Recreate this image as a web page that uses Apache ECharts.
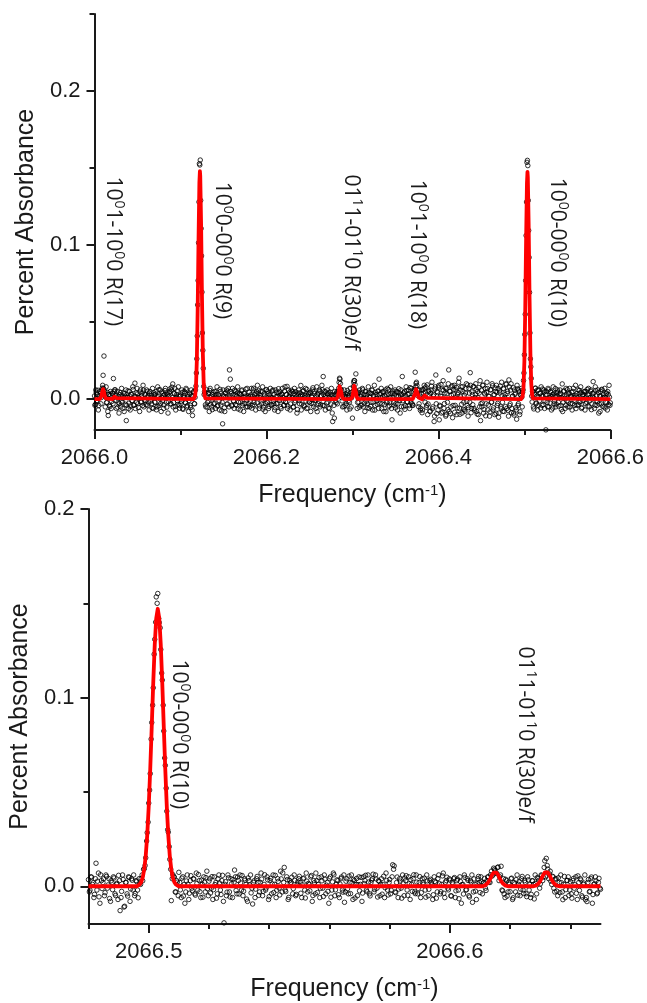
<!DOCTYPE html>
<html>
<head>
<meta charset="utf-8">
<script src="https://cdn.jsdelivr.net/npm/echarts@6/dist/echarts.min.js"></script>
<style>
  html, body { margin: 0; padding: 0; background: #ffffff; }
  #chart { width: 647px; height: 1003px; }
</style>
</head>
<body>
<div id="chart"></div>
<script>
// ---------- Upper scan: 2066.0 - 2066.6 cm-1 ----------
// measured points: the 1 mcm-1 grid first, then the half-step samples
const topFreq = [
2066.000,2066.001,2066.002,2066.003,2066.004,2066.005,2066.006,2066.007,2066.008,2066.009,
2066.010,2066.011,2066.012,2066.013,2066.014,2066.015,2066.016,2066.017,2066.018,2066.019,
2066.020,2066.021,2066.022,2066.023,2066.024,2066.025,2066.026,2066.027,2066.028,2066.029,
2066.030,2066.031,2066.032,2066.033,2066.034,2066.035,2066.036,2066.037,2066.038,2066.039,
2066.040,2066.041,2066.042,2066.043,2066.044,2066.045,2066.046,2066.047,2066.048,2066.049,
2066.050,2066.051,2066.052,2066.053,2066.054,2066.055,2066.056,2066.057,2066.058,2066.059,
2066.060,2066.061,2066.062,2066.063,2066.064,2066.065,2066.066,2066.067,2066.068,2066.069,
2066.070,2066.071,2066.072,2066.073,2066.074,2066.075,2066.076,2066.077,2066.078,2066.079,
2066.080,2066.081,2066.082,2066.083,2066.084,2066.085,2066.086,2066.087,2066.088,2066.089,
2066.090,2066.091,2066.092,2066.093,2066.094,2066.095,2066.096,2066.097,2066.098,2066.099,
2066.100,2066.101,2066.102,2066.103,2066.104,2066.105,2066.106,2066.107,2066.108,2066.109,
2066.110,2066.111,2066.112,2066.113,2066.114,2066.115,2066.116,2066.117,2066.118,2066.119,
2066.120,2066.121,2066.122,2066.123,2066.124,2066.125,2066.126,2066.127,2066.128,2066.129,
2066.130,2066.131,2066.132,2066.133,2066.134,2066.135,2066.136,2066.137,2066.138,2066.139,
2066.140,2066.141,2066.142,2066.143,2066.144,2066.145,2066.146,2066.147,2066.148,2066.149,
2066.150,2066.151,2066.152,2066.153,2066.154,2066.155,2066.156,2066.157,2066.158,2066.159,
2066.160,2066.161,2066.162,2066.163,2066.164,2066.165,2066.166,2066.167,2066.168,2066.169,
2066.170,2066.171,2066.172,2066.173,2066.174,2066.175,2066.176,2066.177,2066.178,2066.179,
2066.180,2066.181,2066.182,2066.183,2066.184,2066.185,2066.186,2066.187,2066.188,2066.189,
2066.190,2066.191,2066.192,2066.193,2066.194,2066.195,2066.196,2066.197,2066.198,2066.199,
2066.200,2066.201,2066.202,2066.203,2066.204,2066.205,2066.206,2066.207,2066.208,2066.209,
2066.210,2066.211,2066.212,2066.213,2066.214,2066.215,2066.216,2066.217,2066.218,2066.219,
2066.220,2066.221,2066.222,2066.223,2066.224,2066.225,2066.226,2066.227,2066.228,2066.229,
2066.230,2066.231,2066.232,2066.233,2066.234,2066.235,2066.236,2066.237,2066.238,2066.239,
2066.240,2066.241,2066.242,2066.243,2066.244,2066.245,2066.246,2066.247,2066.248,2066.249,
2066.250,2066.251,2066.252,2066.253,2066.254,2066.255,2066.256,2066.257,2066.258,2066.259,
2066.260,2066.261,2066.262,2066.263,2066.264,2066.265,2066.266,2066.267,2066.268,2066.269,
2066.270,2066.271,2066.272,2066.273,2066.274,2066.275,2066.276,2066.277,2066.278,2066.279,
2066.280,2066.281,2066.282,2066.283,2066.284,2066.285,2066.286,2066.287,2066.288,2066.289,
2066.290,2066.291,2066.292,2066.293,2066.294,2066.295,2066.296,2066.297,2066.298,2066.299,
2066.300,2066.301,2066.302,2066.303,2066.304,2066.305,2066.306,2066.307,2066.308,2066.309,
2066.310,2066.311,2066.312,2066.313,2066.314,2066.315,2066.316,2066.317,2066.318,2066.319,
2066.320,2066.321,2066.322,2066.323,2066.324,2066.325,2066.326,2066.327,2066.328,2066.329,
2066.330,2066.331,2066.332,2066.333,2066.334,2066.335,2066.336,2066.337,2066.338,2066.339,
2066.340,2066.341,2066.342,2066.343,2066.344,2066.345,2066.346,2066.347,2066.348,2066.349,
2066.350,2066.351,2066.352,2066.353,2066.354,2066.355,2066.356,2066.357,2066.358,2066.359,
2066.360,2066.361,2066.362,2066.363,2066.364,2066.365,2066.366,2066.367,2066.368,2066.369,
2066.370,2066.371,2066.372,2066.373,2066.374,2066.375,2066.376,2066.377,2066.378,2066.379,
2066.380,2066.381,2066.382,2066.383,2066.384,2066.385,2066.386,2066.387,2066.388,2066.389,
2066.390,2066.391,2066.392,2066.393,2066.394,2066.395,2066.396,2066.397,2066.398,2066.399,
2066.400,2066.401,2066.402,2066.403,2066.404,2066.405,2066.406,2066.407,2066.408,2066.409,
2066.410,2066.411,2066.412,2066.413,2066.414,2066.415,2066.416,2066.417,2066.418,2066.419,
2066.420,2066.421,2066.422,2066.423,2066.424,2066.425,2066.426,2066.427,2066.428,2066.429,
2066.430,2066.431,2066.432,2066.433,2066.434,2066.435,2066.436,2066.437,2066.438,2066.439,
2066.440,2066.441,2066.442,2066.443,2066.444,2066.445,2066.446,2066.447,2066.448,2066.449,
2066.450,2066.451,2066.452,2066.453,2066.454,2066.455,2066.456,2066.457,2066.458,2066.459,
2066.460,2066.461,2066.462,2066.463,2066.464,2066.465,2066.466,2066.467,2066.468,2066.469,
2066.470,2066.471,2066.472,2066.473,2066.474,2066.475,2066.476,2066.477,2066.478,2066.479,
2066.480,2066.481,2066.482,2066.483,2066.484,2066.485,2066.486,2066.487,2066.488,2066.489,
2066.490,2066.491,2066.492,2066.493,2066.494,2066.495,2066.496,2066.497,2066.498,2066.499,
2066.500,2066.501,2066.502,2066.503,2066.504,2066.505,2066.506,2066.507,2066.508,2066.509,
2066.510,2066.511,2066.512,2066.513,2066.514,2066.515,2066.516,2066.517,2066.518,2066.519,
2066.520,2066.521,2066.522,2066.523,2066.524,2066.525,2066.526,2066.527,2066.528,2066.529,
2066.530,2066.531,2066.532,2066.533,2066.534,2066.535,2066.536,2066.537,2066.538,2066.539,
2066.540,2066.541,2066.542,2066.543,2066.544,2066.545,2066.546,2066.547,2066.548,2066.549,
2066.550,2066.551,2066.552,2066.553,2066.554,2066.555,2066.556,2066.557,2066.558,2066.559,
2066.560,2066.561,2066.562,2066.563,2066.564,2066.565,2066.566,2066.567,2066.568,2066.569,
2066.570,2066.571,2066.572,2066.573,2066.574,2066.575,2066.576,2066.577,2066.578,2066.579,
2066.580,2066.581,2066.582,2066.583,2066.584,2066.585,2066.586,2066.587,2066.588,2066.589,
2066.590,2066.591,2066.592,2066.593,2066.594,2066.595,2066.596,2066.597,2066.598,2066.599,
2066.600,
2066.0005,2066.0015,2066.0025,2066.0035,2066.0045,2066.0055,2066.0065,2066.0075,2066.0085,2066.0095,
2066.0105,2066.0115,2066.0125,2066.0135,2066.0145,2066.0155,2066.0165,2066.0175,2066.0185,2066.0195,
2066.0205,2066.0215,2066.0225,2066.0235,2066.0245,2066.0255,2066.0265,2066.0275,2066.0285,2066.0295,
2066.0305,2066.0315,2066.0325,2066.0335,2066.0345,2066.0355,2066.0365,2066.0375,2066.0385,2066.0395,
2066.0405,2066.0415,2066.0425,2066.0435,2066.0445,2066.0455,2066.0465,2066.0475,2066.0485,2066.0495,
2066.0505,2066.0515,2066.0525,2066.0535,2066.0545,2066.0555,2066.0565,2066.0575,2066.0585,2066.0595,
2066.0605,2066.0615,2066.0625,2066.0635,2066.0645,2066.0655,2066.0665,2066.0675,2066.0685,2066.0695,
2066.0705,2066.0715,2066.0725,2066.0735,2066.0745,2066.0755,2066.0765,2066.0775,2066.0785,2066.0795,
2066.0805,2066.0815,2066.0825,2066.0835,2066.0845,2066.0855,2066.0865,2066.0875,2066.0885,2066.0895,
2066.0905,2066.0915,2066.0925,2066.0935,2066.0945,2066.0955,2066.0965,2066.0975,2066.0985,2066.0995,
2066.1005,2066.1015,2066.1025,2066.1035,2066.1045,2066.1055,2066.1065,2066.1075,2066.1085,2066.1095,
2066.1105,2066.1115,2066.1125,2066.1135,2066.1145,2066.1155,2066.1165,2066.1175,2066.1185,2066.1195,
2066.1205,2066.1215,2066.1225,2066.1235,2066.1245,2066.1255,2066.1265,2066.1275,2066.1285,2066.1295,
2066.1305,2066.1315,2066.1325,2066.1335,2066.1345,2066.1355,2066.1365,2066.1375,2066.1385,2066.1395,
2066.1405,2066.1415,2066.1425,2066.1435,2066.1445,2066.1455,2066.1465,2066.1475,2066.1485,2066.1495,
2066.1505,2066.1515,2066.1525,2066.1535,2066.1545,2066.1555,2066.1565,2066.1575,2066.1585,2066.1595,
2066.1605,2066.1615,2066.1625,2066.1635,2066.1645,2066.1655,2066.1665,2066.1675,2066.1685,2066.1695,
2066.1705,2066.1715,2066.1725,2066.1735,2066.1745,2066.1755,2066.1765,2066.1775,2066.1785,2066.1795,
2066.1805,2066.1815,2066.1825,2066.1835,2066.1845,2066.1855,2066.1865,2066.1875,2066.1885,2066.1895,
2066.1905,2066.1915,2066.1925,2066.1935,2066.1945,2066.1955,2066.1965,2066.1975,2066.1985,2066.1995,
2066.2005,2066.2015,2066.2025,2066.2035,2066.2045,2066.2055,2066.2065,2066.2075,2066.2085,2066.2095,
2066.2105,2066.2115,2066.2125,2066.2135,2066.2145,2066.2155,2066.2165,2066.2175,2066.2185,2066.2195,
2066.2205,2066.2215,2066.2225,2066.2235,2066.2245,2066.2255,2066.2265,2066.2275,2066.2285,2066.2295,
2066.2305,2066.2315,2066.2325,2066.2335,2066.2345,2066.2355,2066.2365,2066.2375,2066.2385,2066.2395,
2066.2405,2066.2415,2066.2425,2066.2435,2066.2445,2066.2455,2066.2465,2066.2475,2066.2485,2066.2495,
2066.2505,2066.2515,2066.2525,2066.2535,2066.2545,2066.2555,2066.2565,2066.2575,2066.2585,2066.2595,
2066.2605,2066.2615,2066.2625,2066.2635,2066.2645,2066.2655,2066.2665,2066.2675,2066.2685,2066.2695,
2066.2705,2066.2715,2066.2725,2066.2735,2066.2745,2066.2755,2066.2765,2066.2775,2066.2785,2066.2795,
2066.2805,2066.2815,2066.2825,2066.2835,2066.2845,2066.2855,2066.2865,2066.2875,2066.2885,2066.2895,
2066.2905,2066.2915,2066.2925,2066.2935,2066.2945,2066.2955,2066.2965,2066.2975,2066.2985,2066.2995,
2066.3005,2066.3015,2066.3025,2066.3035,2066.3045,2066.3055,2066.3065,2066.3075,2066.3085,2066.3095,
2066.3105,2066.3115,2066.3125,2066.3135,2066.3145,2066.3155,2066.3165,2066.3175,2066.3185,2066.3195,
2066.3205,2066.3215,2066.3225,2066.3235,2066.3245,2066.3255,2066.3265,2066.3275,2066.3285,2066.3295,
2066.3305,2066.3315,2066.3325,2066.3335,2066.3345,2066.3355,2066.3365,2066.3375,2066.3385,2066.3395,
2066.3405,2066.3415,2066.3425,2066.3435,2066.3445,2066.3455,2066.3465,2066.3475,2066.3485,2066.3495,
2066.3505,2066.3515,2066.3525,2066.3535,2066.3545,2066.3555,2066.3565,2066.3575,2066.3585,2066.3595,
2066.3605,2066.3615,2066.3625,2066.3635,2066.3645,2066.3655,2066.3665,2066.3675,2066.3685,2066.3695,
2066.3705,2066.3715,2066.3725,2066.3735,2066.3745,2066.3755,2066.3765,2066.3775,2066.3785,2066.3795,
2066.3805,2066.3815,2066.3825,2066.3835,2066.3845,2066.3855,2066.3865,2066.3875,2066.3885,2066.3895,
2066.3905,2066.3915,2066.3925,2066.3935,2066.3945,2066.3955,2066.3965,2066.3975,2066.3985,2066.3995,
2066.4005,2066.4015,2066.4025,2066.4035,2066.4045,2066.4055,2066.4065,2066.4075,2066.4085,2066.4095,
2066.4105,2066.4115,2066.4125,2066.4135,2066.4145,2066.4155,2066.4165,2066.4175,2066.4185,2066.4195,
2066.4205,2066.4215,2066.4225,2066.4235,2066.4245,2066.4255,2066.4265,2066.4275,2066.4285,2066.4295,
2066.4305,2066.4315,2066.4325,2066.4335,2066.4345,2066.4355,2066.4365,2066.4375,2066.4385,2066.4395,
2066.4405,2066.4415,2066.4425,2066.4435,2066.4445,2066.4455,2066.4465,2066.4475,2066.4485,2066.4495,
2066.4505,2066.4515,2066.4525,2066.4535,2066.4545,2066.4555,2066.4565,2066.4575,2066.4585,2066.4595,
2066.4605,2066.4615,2066.4625,2066.4635,2066.4645,2066.4655,2066.4665,2066.4675,2066.4685,2066.4695,
2066.4705,2066.4715,2066.4725,2066.4735,2066.4745,2066.4755,2066.4765,2066.4775,2066.4785,2066.4795,
2066.4805,2066.4815,2066.4825,2066.4835,2066.4845,2066.4855,2066.4865,2066.4875,2066.4885,2066.4895,
2066.4905,2066.4915,2066.4925,2066.4935,2066.4945,2066.4955,2066.4965,2066.4975,2066.4985,2066.4995,
2066.5005,2066.5015,2066.5025,2066.5035,2066.5045,2066.5055,2066.5065,2066.5075,2066.5085,2066.5095,
2066.5105,2066.5115,2066.5125,2066.5135,2066.5145,2066.5155,2066.5165,2066.5175,2066.5185,2066.5195,
2066.5205,2066.5215,2066.5225,2066.5235,2066.5245,2066.5255,2066.5265,2066.5275,2066.5285,2066.5295,
2066.5305,2066.5315,2066.5325,2066.5335,2066.5345,2066.5355,2066.5365,2066.5375,2066.5385,2066.5395,
2066.5405,2066.5415,2066.5425,2066.5435,2066.5445,2066.5455,2066.5465,2066.5475,2066.5485,2066.5495,
2066.5505,2066.5515,2066.5525,2066.5535,2066.5545,2066.5555,2066.5565,2066.5575,2066.5585,2066.5595,
2066.5605,2066.5615,2066.5625,2066.5635,2066.5645,2066.5655,2066.5665,2066.5675,2066.5685,2066.5695,
2066.5705,2066.5715,2066.5725,2066.5735,2066.5745,2066.5755,2066.5765,2066.5775,2066.5785,2066.5795,
2066.5805,2066.5815,2066.5825,2066.5835,2066.5845,2066.5855,2066.5865,2066.5875,2066.5885,2066.5895,
2066.5905,2066.5915,2066.5925,2066.5935,2066.5945,2066.5955,2066.5965,2066.5975,2066.5985,2066.5995
];
const topAbs = [
0.0021,-0.0034,0.0045,-0.0012,0.0058,-0.0041,0.0016,0.0039,0.0011,0.0072,
0.0155,0.0280,0.0052,0.0013,-0.0023,0.0044,-0.0106,0.0031,-0.0048,0.0026,
-0.0015,0.0037,0.0134,0.0049,0.0061,-0.0008,0.0027,-0.0052,0.0018,-0.0029,
0.0043,-0.0017,0.0025,-0.0061,0.0008,0.0036,-0.0033,-0.0139,0.0012,0.0054,
-0.0026,0.0019,-0.0044,0.0031,-0.0009,0.0063,-0.0038,0.0104,0.0015,-0.0021,
0.0034,-0.0053,0.0007,0.0046,-0.0018,0.0022,-0.0041,0.0059,-0.0005,0.0028,
-0.0036,0.0014,0.0051,-0.0024,0.0039,-0.0012,0.0026,-0.0057,0.0009,0.0042,
-0.0019,0.0033,-0.0069,0.0017,-0.0045,0.0062,0.0003,-0.0028,0.0047,-0.0011,
0.0024,-0.0037,0.0056,0.0013,-0.0052,0.0029,-0.0016,0.0041,0.0068,-0.0031,
0.0078,0.0099,-0.0022,0.0035,-0.0047,0.0011,0.0053,-0.0034,0.0018,-0.0059,
0.0027,-0.0013,0.0044,-0.0066,0.0008,0.0037,-0.0025,0.0061,-0.0042,0.0016,
-0.0008,0.0032,-0.0054,0.0021,-0.0106,0.0046,-0.0029,0.0012,0.0085,0.0262,
0.0612,0.1015,0.1528,0.1552,0.1108,0.0695,0.0317,0.0083,0.0049,-0.0037,
0.0025,-0.0051,0.0038,-0.0014,0.0057,-0.0032,0.0019,-0.0068,0.0043,0.0006,
-0.0027,0.0048,0.0013,-0.0045,0.0031,-0.0009,0.0064,-0.0038,-0.0075,-0.0160,
0.0022,-0.0056,0.0039,0.0015,-0.0033,0.0052,0.0007,0.0190,0.0130,0.0036,
-0.0044,0.0027,-0.0012,0.0058,-0.0035,0.0018,0.0041,-0.0063,0.0009,0.0033,
-0.0019,0.0054,-0.0041,0.0012,0.0036,-0.0028,0.0065,-0.0007,-0.0049,0.0021,
0.0044,-0.0015,0.0029,-0.0058,0.0017,0.0071,-0.0036,0.0008,0.0039,-0.0024,
0.0013,0.0057,-0.0043,0.0026,-0.0011,0.0048,-0.0065,0.0034,0.0005,-0.0029,
0.0062,-0.0018,0.0037,-0.0047,0.0021,0.0009,-0.0034,0.0054,-0.0013,0.0031,
-0.0055,0.0016,0.0043,-0.0026,0.0068,-0.0008,0.0024,-0.0061,0.0035,0.0011,
-0.0039,0.0052,-0.0017,0.0029,0.0083,-0.0044,0.0013,0.0046,-0.0031,0.0058,
0.0007,-0.0052,0.0036,-0.0021,0.0049,0.0015,-0.0067,0.0027,-0.0009,0.0041,
0.0089,-0.0033,0.0018,0.0057,-0.0046,0.0024,-0.0012,0.0063,-0.0058,0.0032,
-0.0017,0.0045,-0.0028,0.0011,0.0074,-0.0049,0.0036,-0.0005,0.0022,-0.0081,
0.0039,-0.0014,0.0052,-0.0036,0.0023,0.0061,0.0147,-0.0042,0.0017,0.0048,
-0.0025,0.0034,-0.0058,0.0012,0.0046,-0.0031,0.0027,-0.0145,0.0008,-0.0123,
0.0031,-0.0022,0.0049,0.0038,0.0071,0.0136,0.0102,0.0063,-0.0011,0.0026,
-0.0047,0.0018,0.0035,-0.0029,0.0057,-0.0013,0.0024,-0.0063,0.0041,0.0009,
-0.0123,0.0082,0.0121,0.0095,0.0164,0.0036,-0.0021,0.0044,-0.0052,0.0019,
0.0033,-0.0038,0.0061,0.0007,-0.0026,0.0048,-0.0014,0.0029,-0.0055,0.0042,
0.0012,-0.0046,0.0037,0.0058,-0.0019,0.0025,-0.0071,0.0044,0.0003,-0.0033,
0.0054,0.0130,-0.0027,0.0039,-0.0062,0.0016,0.0047,-0.0035,0.0022,-0.0081,
0.0028,-0.0015,0.0063,-0.0044,0.0011,0.0038,-0.0134,0.0052,-0.0023,0.0034,
-0.0057,0.0019,0.0045,-0.0031,0.0068,-0.0009,0.0026,-0.0048,0.0147,0.0013,
0.0041,-0.0066,0.0023,0.0054,-0.0017,0.0036,-0.0042,0.0075,-0.0024,0.0012,
-0.0038,0.0046,0.0063,0.0175,0.0102,0.0089,0.0024,-0.0049,0.0058,-0.0072,
0.0034,-0.0088,0.0061,0.0012,0.0071,0.0047,-0.0052,0.0093,-0.0031,0.0055,
-0.0077,0.0038,0.0084,-0.0062,0.0021,-0.0145,0.0066,0.0157,-0.0094,0.0043,
0.0079,-0.0134,-0.0046,0.0095,0.0018,-0.0083,0.0057,-0.0029,0.0072,-0.0101,
0.0036,-0.0068,0.0190,0.0051,-0.0092,0.0027,0.0088,-0.0041,0.0063,-0.0085,
0.0014,0.0076,-0.0057,0.0043,0.0136,-0.0098,0.0059,-0.0033,0.0081,-0.0066,
0.0025,-0.0079,0.0068,-0.0015,0.0092,-0.0054,0.0039,0.0172,-0.0088,0.0047,
-0.0036,0.0083,-0.0071,0.0029,0.0064,-0.0096,0.0011,0.0075,-0.0049,-0.0139,
0.0058,-0.0024,0.0091,-0.0067,0.0033,-0.0108,0.0046,0.0069,-0.0038,0.0017,
-0.0083,0.0062,-0.0019,0.0087,-0.0056,0.0028,0.0073,-0.0091,0.0044,-0.0027,
-0.0117,0.0054,0.0085,-0.0062,0.0023,-0.0079,0.0066,0.0012,-0.0048,0.0096,
0.0037,-0.0072,0.0125,-0.0041,0.0059,-0.0088,0.0018,0.0074,-0.0103,0.0031,
-0.0055,-0.0130,0.0067,-0.0029,0.0048,-0.0082,0.0025,0.0013,0.0044,0.0121,
0.0288,0.0551,0.1062,0.1537,0.1516,0.1095,0.0693,0.0262,0.0135,-0.0018,
0.0049,-0.0063,0.0031,0.0072,-0.0024,0.0058,-0.0041,0.0015,0.0036,-0.0057,
0.0022,0.0066,-0.0035,0.0047,-0.0012,-0.0199,0.0028,-0.0049,0.0061,0.0008,
-0.0026,0.0043,0.0017,-0.0058,0.0035,-0.0014,0.0069,-0.0032,0.0021,0.0046,
-0.0045,0.0011,0.0038,-0.0067,0.0099,-0.0023,0.0054,0.0006,-0.0039,0.0027,
0.0062,-0.0018,0.0033,-0.0051,0.0014,0.0045,-0.0029,0.0071,-0.0008,0.0024,
-0.0061,0.0036,0.0009,-0.0034,0.0057,-0.0016,0.0042,-0.0053,0.0019,0.0031,
0.0048,-0.0027,0.0015,0.0063,-0.0044,0.0026,-0.0011,0.0052,-0.0068,0.0037,
0.0114,0.0007,-0.0039,0.0056,0.0022,-0.0017,0.0043,-0.0031,-0.0080,0.0018,
0.0064,-0.0046,0.0029,0.0011,-0.0058,0.0037,-0.0022,0.0049,-0.0035,0.0013,
-0.0024,
-0.004,0.006,-0.001,0.003,-0.007,0.002,0.005,-0.003,0.006,0.009,
0.007,0.004,-0.005,0.008,-0.002,-0.008,0.003,-0.004,0.005,-0.006,
0.004,-0.003,0.001,0.006,0.002,-0.006,0.005,-0.002,-0.009,0.003,
-0.005,0.007,-0.002,0.004,-0.008,0.002,0.006,-0.004,0.001,-0.006,
0.005,-0.007,0.003,-0.001,0.008,-0.004,0.002,-0.006,0.004,0.007,
-0.003,0.001,-0.008,0.006,-0.002,0.004,0.009,-0.005,0.003,-0.001,
0.006,-0.004,0.002,-0.007,0.005,0.001,-0.003,0.007,-0.006,0.003,
-0.002,0.005,-0.005,0.008,0.002,-0.004,0.006,-0.008,0.001,0.004,
-0.006,0.003,0.007,-0.002,0.004,-0.009,0.002,0.005,-0.003,0.006,
0.001,-0.005,0.004,0.007,-0.007,0.003,-0.001,0.008,-0.004,0.002,
-0.003,0.006,-0.006,0.002,0.005,-0.002,0.007,-0.005,0.003,-0.008,
0.004,-0.004,0.006,-0.007,0.002,0.005,-0.003,0.006,0.017,0.041,
0.077,0.128,0.152,0.129,0.093,0.043,0.020,0.003,0.004,-0.005,
0.006,-0.002,0.004,-0.008,0.007,0.001,-0.005,0.003,-0.003,0.005,
-0.006,0.003,0.008,-0.004,0.002,-0.007,0.005,0.001,-0.002,0.006,
0.002,-0.008,0.004,0.006,-0.003,0.007,-0.005,0.002,0.005,-0.004,
0.007,-0.001,-0.006,0.003,0.005,-0.004,0.008,-0.002,0.004,-0.007,
0.003,0.006,-0.003,-0.008,0.004,0.002,-0.005,0.007,0.001,-0.003,
-0.005,0.002,0.007,-0.004,0.006,-0.002,0.003,-0.007,0.005,0.009,
0.004,-0.006,0.001,0.005,-0.003,0.008,-0.005,0.002,-0.008,0.006,
-0.002,0.005,-0.006,0.003,0.007,-0.004,0.001,0.006,-0.003,-0.007,
0.006,-0.003,0.002,-0.008,0.004,0.005,-0.005,0.003,0.007,-0.001,
-0.004,0.008,-0.002,0.003,-0.006,0.006,0.002,-0.007,0.004,0.001,
0.005,-0.005,0.007,-0.001,0.003,-0.009,0.004,0.006,-0.003,0.002,
-0.007,0.003,0.005,-0.004,0.001,0.007,-0.006,0.002,0.004,-0.002,
0.004,-0.008,0.002,0.006,-0.003,0.005,-0.001,-0.006,0.008,0.003,
-0.003,0.006,-0.005,0.002,0.009,-0.004,0.003,0.005,-0.007,0.001,
0.006,-0.002,0.004,-0.006,0.003,0.007,-0.009,0.002,-0.004,0.005,
-0.001,0.004,-0.003,0.005,0.011,0.013,0.006,0.001,-0.005,0.003,
0.006,-0.004,0.002,-0.007,0.004,0.001,-0.002,0.007,-0.005,0.003,
0.005,0.011,0.012,0.006,0.003,-0.006,0.004,-0.002,0.006,-0.004,
0.002,0.007,-0.005,0.003,-0.008,0.005,0.001,-0.003,0.008,-0.006,
0.004,-0.002,0.006,-0.007,0.002,0.009,-0.004,0.003,-0.001,0.005,
-0.006,0.003,0.001,0.007,-0.003,0.005,-0.008,0.002,0.006,-0.002,
0.007,-0.005,0.003,-0.002,0.008,-0.006,0.004,0.001,-0.004,0.006,
-0.003,0.005,-0.007,0.002,0.004,-0.009,0.006,0.003,-0.001,-0.005,
0.005,-0.004,0.008,-0.002,0.003,0.006,-0.006,0.001,0.007,-0.003,
-0.004,0.003,0.006,0.008,0.011,0.004,0.006,-0.003,0.002,-0.006,
0.006,-0.007,0.004,0.009,-0.002,0.008,-0.004,-0.010,0.005,0.002,
-0.008,0.006,0.011,-0.005,0.003,-0.011,0.008,-0.003,0.005,-0.007,
0.009,-0.004,0.002,-0.009,0.006,0.012,-0.006,0.004,-0.011,0.007,
-0.002,0.010,-0.008,0.005,-0.005,0.008,-0.012,0.003,0.009,-0.004,
0.006,-0.010,0.003,0.011,-0.006,0.002,0.008,-0.009,0.005,-0.002,
-0.007,0.004,0.010,-0.004,-0.011,0.007,-0.002,0.009,-0.006,0.003,
0.008,-0.006,0.001,0.010,-0.008,0.005,-0.010,0.004,0.012,-0.003,
-0.005,0.009,-0.009,0.004,0.007,-0.003,0.011,-0.007,0.002,-0.011,
0.006,-0.002,0.010,-0.007,0.003,-0.010,0.005,0.009,-0.004,0.007,
-0.009,0.004,-0.005,0.011,-0.002,0.007,-0.008,0.003,0.010,-0.006,
0.005,-0.011,0.008,-0.003,0.010,-0.006,0.002,-0.009,0.006,0.004,
-0.007,0.009,-0.004,0.006,-0.010,0.003,0.007,-0.005,0.006,0.017,
0.042,0.077,0.128,0.155,0.129,0.092,0.043,0.021,0.002,0.005,
-0.005,0.004,0.007,-0.003,0.002,-0.007,0.006,-0.001,0.004,0.008,
-0.004,0.002,0.006,-0.006,0.003,0.005,-0.002,0.007,-0.005,0.001,
0.005,-0.007,0.003,0.008,-0.003,0.002,-0.005,0.004,0.006,-0.002,
0.003,0.006,-0.004,0.001,-0.008,0.005,0.002,-0.006,0.007,-0.001,
-0.005,0.004,0.007,-0.003,0.002,-0.007,0.005,0.001,-0.004,0.009,
0.002,-0.004,0.006,-0.002,0.004,0.008,-0.006,0.003,-0.001,0.005,
-0.007,0.005,-0.002,0.003,0.007,-0.005,0.001,0.006,-0.003,0.002,
0.004,-0.006,0.008,-0.001,-0.004,0.006,-0.009,0.002,0.005,-0.003,
0.006,0.001,-0.005,0.007,-0.002,0.004,-0.007,0.003,0.009,-0.004
];
// fitted line profile, [frequency, absorbance]
const topFit = [
[2066.000,0],[2066.006,0],[2066.007,0.0005],[2066.008,0.0020],[2066.009,0.0048],[2066.010,0.0065],
[2066.011,0.0048],[2066.012,0.0020],[2066.013,0.0005],[2066.014,0],
[2066.021,0],[2066.022,0.0007],[2066.023,0.0016],[2066.024,0.0022],[2066.025,0.0016],[2066.026,0.0007],[2066.027,0],
[2066.115,0],[2066.116,0.0004],[2066.117,0.0019],[2066.118,0.0079],[2066.119,0.0246],[2066.120,0.0580],
[2066.121,0.1037],[2066.122,0.1407],[2066.1226,0.1480],[2066.123,0.1447],[2066.124,0.1128],[2066.125,0.0666],
[2066.126,0.0299],[2066.127,0.0102],[2066.128,0.0026],[2066.129,0.0005],[2066.130,0],
[2066.281,0],[2066.282,0.0002],[2066.283,0.0014],[2066.284,0.0046],[2066.285,0.0084],[2066.2855,0.0090],
[2066.286,0.0084],[2066.287,0.0046],[2066.288,0.0014],[2066.289,0.0002],[2066.290,0],
[2066.298,0],[2066.299,0.0002],[2066.300,0.0015],[2066.301,0.0049],[2066.302,0.0088],[2066.3025,0.0095],
[2066.303,0.0088],[2066.304,0.0049],[2066.305,0.0015],[2066.306,0.0002],[2066.307,0],
[2066.370,0],[2066.371,0.0002],[2066.372,0.0011],[2066.373,0.0036],[2066.374,0.0065],[2066.3745,0.0070],
[2066.375,0.0065],[2066.376,0.0036],[2066.377,0.0011],[2066.378,0.0002],[2066.379,0],
[2066.381,0],[2066.382,0.0002],[2066.383,0.0010],[2066.384,0.0024],[2066.385,0.0030],[2066.386,0.0021],
[2066.387,0.0008],[2066.388,0.0002],[2066.389,0],
[2066.496,0],[2066.497,0.0004],[2066.498,0.0019],[2066.499,0.0078],[2066.500,0.0245],[2066.501,0.0578],
[2066.502,0.1034],[2066.503,0.1403],[2066.5036,0.1475],[2066.504,0.1442],[2066.505,0.1124],[2066.506,0.0664],
[2066.507,0.0298],[2066.508,0.0101],[2066.509,0.0026],[2066.510,0.0005],[2066.511,0],
[2066.600,0]
];

// ---------- Lower scan: 2066.48 - 2066.65 cm-1 ----------
const bottomFreq = [
2066.4800,2066.4805,2066.4810,2066.4815,2066.4820,2066.4825,2066.4830,2066.4835,2066.4840,2066.4845,
2066.4850,2066.4855,2066.4860,2066.4865,2066.4870,2066.4875,2066.4880,2066.4885,2066.4890,2066.4895,
2066.4900,2066.4905,2066.4910,2066.4915,2066.4920,2066.4925,2066.4930,2066.4935,2066.4940,2066.4945,
2066.4950,2066.4955,2066.4960,2066.4965,2066.4970,2066.4975,2066.4980,2066.4985,2066.4990,2066.4995,
2066.5000,2066.5005,2066.5010,2066.5015,2066.5020,2066.5025,2066.5030,2066.5035,2066.5040,2066.5045,
2066.5050,2066.5055,2066.5060,2066.5065,2066.5070,2066.5075,2066.5080,2066.5085,2066.5090,2066.5095,
2066.5100,2066.5105,2066.5110,2066.5115,2066.5120,2066.5125,2066.5130,2066.5135,2066.5140,2066.5145,
2066.5150,2066.5155,2066.5160,2066.5165,2066.5170,2066.5175,2066.5180,2066.5185,2066.5190,2066.5195,
2066.5200,2066.5205,2066.5210,2066.5215,2066.5220,2066.5225,2066.5230,2066.5235,2066.5240,2066.5245,
2066.5250,2066.5255,2066.5260,2066.5265,2066.5270,2066.5275,2066.5280,2066.5285,2066.5290,2066.5295,
2066.5300,2066.5305,2066.5310,2066.5315,2066.5320,2066.5325,2066.5330,2066.5335,2066.5340,2066.5345,
2066.5350,2066.5355,2066.5360,2066.5365,2066.5370,2066.5375,2066.5380,2066.5385,2066.5390,2066.5395,
2066.5400,2066.5405,2066.5410,2066.5415,2066.5420,2066.5425,2066.5430,2066.5435,2066.5440,2066.5445,
2066.5450,2066.5455,2066.5460,2066.5465,2066.5470,2066.5475,2066.5480,2066.5485,2066.5490,2066.5495,
2066.5500,2066.5505,2066.5510,2066.5515,2066.5520,2066.5525,2066.5530,2066.5535,2066.5540,2066.5545,
2066.5550,2066.5555,2066.5560,2066.5565,2066.5570,2066.5575,2066.5580,2066.5585,2066.5590,2066.5595,
2066.5600,2066.5605,2066.5610,2066.5615,2066.5620,2066.5625,2066.5630,2066.5635,2066.5640,2066.5645,
2066.5650,2066.5655,2066.5660,2066.5665,2066.5670,2066.5675,2066.5680,2066.5685,2066.5690,2066.5695,
2066.5700,2066.5705,2066.5710,2066.5715,2066.5720,2066.5725,2066.5730,2066.5735,2066.5740,2066.5745,
2066.5750,2066.5755,2066.5760,2066.5765,2066.5770,2066.5775,2066.5780,2066.5785,2066.5790,2066.5795,
2066.5800,2066.5805,2066.5810,2066.5815,2066.5820,2066.5825,2066.5830,2066.5835,2066.5840,2066.5845,
2066.5850,2066.5855,2066.5860,2066.5865,2066.5870,2066.5875,2066.5880,2066.5885,2066.5890,2066.5895,
2066.5900,2066.5905,2066.5910,2066.5915,2066.5920,2066.5925,2066.5930,2066.5935,2066.5940,2066.5945,
2066.5950,2066.5955,2066.5960,2066.5965,2066.5970,2066.5975,2066.5980,2066.5985,2066.5990,2066.5995,
2066.6000,2066.6005,2066.6010,2066.6015,2066.6020,2066.6025,2066.6030,2066.6035,2066.6040,2066.6045,
2066.6050,2066.6055,2066.6060,2066.6065,2066.6070,2066.6075,2066.6080,2066.6085,2066.6090,2066.6095,
2066.6100,2066.6105,2066.6110,2066.6115,2066.6120,2066.6125,2066.6130,2066.6135,2066.6140,2066.6145,
2066.6150,2066.6155,2066.6160,2066.6165,2066.6170,2066.6175,2066.6180,2066.6185,2066.6190,2066.6195,
2066.6200,2066.6205,2066.6210,2066.6215,2066.6220,2066.6225,2066.6230,2066.6235,2066.6240,2066.6245,
2066.6250,2066.6255,2066.6260,2066.6265,2066.6270,2066.6275,2066.6280,2066.6285,2066.6290,2066.6295,
2066.6300,2066.6305,2066.6310,2066.6315,2066.6320,2066.6325,2066.6330,2066.6335,2066.6340,2066.6345,
2066.6350,2066.6355,2066.6360,2066.6365,2066.6370,2066.6375,2066.6380,2066.6385,2066.6390,2066.6395,
2066.6400,2066.6405,2066.6410,2066.6415,2066.6420,2066.6425,2066.6430,2066.6435,2066.6440,2066.6445,
2066.6450,2066.6455,2066.6460,2066.6465,2066.6470,2066.6475,2066.6480,2066.6485,2066.6490,2066.6495,
2066.6500,
2066.4803,2066.4808,2066.4813,2066.4818,2066.4823,2066.4828,2066.4833,2066.4838,2066.4843,2066.4848,
2066.4853,2066.4858,2066.4863,2066.4868,2066.4873,2066.4878,2066.4883,2066.4888,2066.4893,2066.4898,
2066.4903,2066.4908,2066.4913,2066.4918,2066.4923,2066.4928,2066.4933,2066.4938,2066.4943,2066.4948,
2066.4953,2066.4958,2066.4963,2066.4968,2066.4973,2066.4978,2066.4983,2066.4988,2066.4993,2066.4998,
2066.5003,2066.5008,2066.5013,2066.5018,2066.5023,2066.5028,2066.5033,2066.5038,2066.5043,2066.5048,
2066.5053,2066.5058,2066.5063,2066.5068,2066.5073,2066.5078,2066.5083,2066.5088,2066.5093,2066.5098,
2066.5103,2066.5108,2066.5113,2066.5118,2066.5123,2066.5128,2066.5133,2066.5138,2066.5143,2066.5148,
2066.5153,2066.5158,2066.5163,2066.5168,2066.5173,2066.5178,2066.5183,2066.5188,2066.5193,2066.5198,
2066.5203,2066.5208,2066.5213,2066.5218,2066.5223,2066.5228,2066.5233,2066.5238,2066.5243,2066.5248,
2066.5253,2066.5258,2066.5263,2066.5268,2066.5273,2066.5278,2066.5283,2066.5288,2066.5293,2066.5298,
2066.5303,2066.5308,2066.5313,2066.5318,2066.5323,2066.5328,2066.5333,2066.5338,2066.5343,2066.5348,
2066.5353,2066.5358,2066.5363,2066.5368,2066.5373,2066.5378,2066.5383,2066.5388,2066.5393,2066.5398,
2066.5403,2066.5408,2066.5413,2066.5418,2066.5423,2066.5428,2066.5433,2066.5438,2066.5443,2066.5448,
2066.5453,2066.5458,2066.5463,2066.5468,2066.5473,2066.5478,2066.5483,2066.5488,2066.5493,2066.5498,
2066.5503,2066.5508,2066.5513,2066.5518,2066.5523,2066.5528,2066.5533,2066.5538,2066.5543,2066.5548,
2066.5553,2066.5558,2066.5563,2066.5568,2066.5573,2066.5578,2066.5583,2066.5588,2066.5593,2066.5598,
2066.5603,2066.5608,2066.5613,2066.5618,2066.5623,2066.5628,2066.5633,2066.5638,2066.5643,2066.5648,
2066.5653,2066.5658,2066.5663,2066.5668,2066.5673,2066.5678,2066.5683,2066.5688,2066.5693,2066.5698,
2066.5703,2066.5708,2066.5713,2066.5718,2066.5723,2066.5728,2066.5733,2066.5738,2066.5743,2066.5748,
2066.5753,2066.5758,2066.5763,2066.5768,2066.5773,2066.5778,2066.5783,2066.5788,2066.5793,2066.5798,
2066.5803,2066.5808,2066.5813,2066.5818,2066.5823,2066.5828,2066.5833,2066.5838,2066.5843,2066.5848,
2066.5853,2066.5858,2066.5863,2066.5868,2066.5873,2066.5878,2066.5883,2066.5888,2066.5893,2066.5898,
2066.5903,2066.5908,2066.5913,2066.5918,2066.5923,2066.5928,2066.5933,2066.5938,2066.5943,2066.5948,
2066.5953,2066.5958,2066.5963,2066.5968,2066.5973,2066.5978,2066.5983,2066.5988,2066.5993,2066.5998,
2066.6003,2066.6008,2066.6013,2066.6018,2066.6023,2066.6028,2066.6033,2066.6038,2066.6043,2066.6048,
2066.6053,2066.6058,2066.6063,2066.6068,2066.6073,2066.6078,2066.6083,2066.6088,2066.6093,2066.6098,
2066.6103,2066.6108,2066.6113,2066.6118,2066.6123,2066.6128,2066.6133,2066.6138,2066.6143,2066.6148,
2066.6153,2066.6158,2066.6163,2066.6168,2066.6173,2066.6178,2066.6183,2066.6188,2066.6193,2066.6198,
2066.6203,2066.6208,2066.6213,2066.6218,2066.6223,2066.6228,2066.6233,2066.6238,2066.6243,2066.6248,
2066.6253,2066.6258,2066.6263,2066.6268,2066.6273,2066.6278,2066.6283,2066.6288,2066.6293,2066.6298,
2066.6303,2066.6308,2066.6313,2066.6318,2066.6323,2066.6328,2066.6333,2066.6338,2066.6343,2066.6348,
2066.6353,2066.6358,2066.6363,2066.6368,2066.6373,2066.6378,2066.6383,2066.6388,2066.6393,2066.6398,
2066.6403,2066.6408,2066.6413,2066.6418,2066.6423,2066.6428,2066.6433,2066.6438,2066.6443,2066.6448,
2066.6453,2066.6458,2066.6463,2066.6468,2066.6473,2066.6478,2066.6483,2066.6488,2066.6493,2066.6498
];
const bottomAbs = [
0.0035,-0.0021,0.0048,0.0019,-0.0043,0.0122,0.0027,-0.0056,0.0061,-0.0012,
0.0039,-0.0034,0.0052,0.0007,-0.0065,0.0029,-0.0018,0.0044,-0.0049,0.0016,
0.0058,-0.0129,-0.0027,0.0036,-0.0106,0.0021,-0.0052,0.0047,-0.0014,0.0032,
0.0060,-0.0038,0.0025,-0.0061,0.0014,0.0041,0.0029,0.0092,0.0151,0.0284,
0.0441,0.0597,0.0868,0.1052,0.1309,0.1534,0.1552,0.1398,0.1255,0.1093,
0.0823,0.0641,0.0398,0.0287,0.0143,-0.0076,0.0062,0.0049,-0.0031,0.0022,
0.0074,-0.0019,0.0043,-0.0052,-0.0090,0.0028,0.0011,-0.0037,0.0056,-0.0024,
0.0038,-0.0047,0.0015,0.0062,-0.0029,0.0033,-0.0058,0.0021,0.0046,-0.0013,
0.0027,-0.0036,0.0051,-0.0018,0.0009,-0.0063,0.0039,0.0017,-0.0044,0.0058,
-0.0194,0.0024,-0.0031,0.0045,-0.0057,0.0013,0.0036,0.0086,-0.0022,0.0049,
-0.0041,0.0018,0.0057,-0.0026,0.0032,-0.0068,0.0044,0.0007,-0.0035,-0.0094,
0.0029,-0.0015,0.0052,-0.0048,0.0021,0.0038,-0.0027,0.0061,-0.0009,0.0034,
-0.0055,0.0042,0.0013,-0.0033,0.0058,-0.0021,0.0026,-0.0046,0.0039,0.0071,
0.0100,-0.0028,0.0035,-0.0059,0.0017,0.0048,-0.0012,0.0031,-0.0043,0.0024,
0.0053,-0.0037,0.0008,0.0044,-0.0062,0.0027,0.0015,-0.0024,0.0057,-0.0049,
0.0019,0.0070,-0.0033,0.0046,-0.0011,0.0029,-0.0054,0.0038,0.0006,-0.0027,
0.0042,-0.0058,0.0023,0.0061,-0.0019,0.0034,-0.0045,0.0012,0.0049,-0.0031,
-0.0085,0.0027,-0.0013,0.0054,-0.0039,0.0018,0.0036,-0.0062,0.0041,0.0009,
-0.0024,0.0047,-0.0036,0.0015,0.0058,-0.0029,0.0022,-0.0051,0.0033,0.0064,
-0.0017,0.0039,-0.0057,0.0026,0.0011,-0.0042,0.0053,-0.0008,0.0031,-0.0046,
0.0036,-0.0021,0.0114,0.0108,-0.0034,0.0049,-0.0015,0.0027,-0.0063,0.0018,
0.0044,0.0056,-0.0048,0.0013,0.0035,-0.0027,0.0061,-0.0039,0.0022,-0.0011,
0.0051,-0.0034,0.0018,0.0043,-0.0058,0.0029,-0.0016,0.0037,0.0007,-0.0045,
0.0026,-0.0063,0.0041,0.0014,-0.0029,0.0055,-0.0037,0.0021,0.0048,-0.0019,
0.0033,-0.0052,0.0012,0.0046,-0.0024,0.0038,-0.0066,0.0025,0.0009,-0.0041,
0.0047,-0.0018,0.0031,-0.0057,0.0022,-0.0085,0.0039,-0.0026,0.0015,0.0052,
-0.0033,0.0024,0.0017,0.0041,-0.0022,0.0049,0.0023,0.0061,0.0054,0.0096,
0.0083,0.0069,0.0102,0.0051,0.0106,-0.0024,-0.0041,0.0037,-0.0052,0.0018,
-0.0029,0.0043,-0.0061,0.0012,0.0035,-0.0047,0.0026,-0.0015,0.0052,-0.0038,
0.0021,-0.0055,0.0034,0.0009,-0.0043,0.0028,-0.0067,0.0014,0.0046,0.0031,
0.0012,0.0057,0.0049,0.0135,0.0148,0.0091,0.0066,0.0027,0.0053,-0.0011,
0.0038,-0.0026,0.0045,-0.0034,0.0019,-0.0071,0.0052,-0.0018,0.0031,-0.0049,
0.0024,-0.0063,0.0041,0.0008,-0.0037,0.0055,-0.0022,0.0033,-0.0058,0.0017,
-0.0071,-0.0081,0.0036,-0.0027,0.0049,-0.0044,0.0013,0.0028,-0.0035,0.0042,
-0.0016,
-0.003,0.005,0.001,-0.006,0.004,-0.002,0.007,-0.009,0.003,0.002,
-0.005,0.006,-0.001,0.004,-0.008,0.002,0.005,-0.004,0.001,-0.007,
0.003,-0.006,0.006,-0.011,0.002,-0.004,0.005,-0.008,0.004,-0.002,
-0.005,0.003,-0.002,0.004,0.001,0.006,0.009,0.011,0.024,0.034,
0.051,0.078,0.096,0.123,0.140,0.150,0.142,0.137,0.113,0.096,
0.068,0.052,0.030,0.021,0.009,0.004,0.005,-0.003,0.003,-0.005,
0.002,-0.006,0.005,0.001,-0.003,0.006,-0.007,0.003,-0.001,0.004,
-0.004,0.007,-0.002,0.003,-0.006,0.001,0.005,-0.003,0.008,-0.005,
0.004,-0.001,-0.007,0.005,0.002,-0.004,0.006,-0.002,0.003,-0.008,
0.001,-0.005,0.006,-0.003,0.004,-0.006,0.002,0.005,-0.004,0.003,
0.006,-0.002,-0.005,0.004,0.001,-0.008,0.003,0.006,-0.001,0.002,
-0.006,0.004,0.002,-0.003,0.007,-0.005,0.001,-0.002,0.005,-0.007,
0.003,-0.004,0.006,0.001,-0.006,0.004,-0.001,0.008,-0.003,0.002,
-0.002,0.005,-0.007,0.003,0.002,-0.004,0.006,-0.005,0.001,0.004,
0.002,-0.006,0.004,-0.002,0.007,-0.003,0.001,0.005,-0.008,0.003,
-0.004,0.003,0.001,-0.006,0.005,-0.001,0.006,-0.004,0.002,-0.009,
0.005,-0.002,0.007,-0.005,0.001,0.003,-0.006,0.004,-0.002,0.006,
-0.003,0.004,-0.004,0.002,0.006,-0.007,0.003,0.001,-0.005,0.005,
0.001,-0.008,0.005,0.003,-0.002,0.006,-0.004,0.002,0.004,-0.003,
0.006,-0.001,0.003,-0.005,0.004,0.001,-0.006,0.007,-0.002,0.002,
-0.004,0.005,0.009,-0.003,0.002,-0.006,0.004,-0.001,0.006,-0.005,
0.003,-0.002,0.005,-0.007,0.001,0.004,-0.003,0.006,-0.004,0.002,
-0.006,0.004,0.001,-0.002,0.006,-0.005,0.003,0.002,-0.007,0.005,
0.002,-0.003,0.006,-0.004,0.001,0.007,-0.006,0.003,-0.001,0.004,
-0.005,0.002,0.004,-0.006,0.003,-0.002,0.005,-0.009,0.001,0.006,
-0.002,0.004,-0.005,0.003,0.006,-0.003,0.001,-0.007,0.004,0.002,
0.005,-0.004,0.002,-0.001,0.003,0.005,0.002,0.008,0.006,0.009,
0.007,0.010,0.003,0.006,-0.002,0.004,-0.006,0.003,-0.003,0.001,
0.004,-0.007,0.002,-0.003,0.006,0.001,-0.005,0.004,-0.002,0.003,
-0.004,0.005,-0.002,-0.006,0.003,0.001,0.006,-0.004,0.004,-0.001,
0.006,0.003,0.010,0.005,0.011,0.004,0.008,0.001,0.005,-0.003,
0.004,-0.005,0.002,0.006,-0.003,0.001,-0.006,0.003,0.005,-0.002,
-0.004,0.003,-0.001,0.005,-0.007,0.002,0.004,-0.005,0.001,0.006,
-0.006,0.002,-0.003,0.004,-0.009,0.001,0.005,-0.004,0.002,-0.001
];
const bottomFit = [
[2066.480,0],[2066.496,0],[2066.4965,0.0004],[2066.497,0.0010],[2066.4975,0.0022],[2066.498,0.0046],
[2066.4985,0.0089],[2066.499,0.0160],[2066.4995,0.0270],[2066.500,0.0423],[2066.5005,0.0619],[2066.501,0.0845],
[2066.5015,0.1077],[2066.502,0.1281],[2066.5025,0.1421],[2066.503,0.1471],[2066.5035,0.1421],[2066.504,0.1281],
[2066.5045,0.1077],[2066.505,0.0845],[2066.5055,0.0619],[2066.506,0.0423],[2066.5065,0.0270],[2066.507,0.0160],
[2066.5075,0.0089],[2066.508,0.0046],[2066.5085,0.0022],[2066.509,0.0010],[2066.5095,0.0004],[2066.510,0],
[2066.6105,0],[2066.611,0.0001],[2066.6115,0.0003],[2066.612,0.0008],[2066.6125,0.0016],[2066.613,0.0028],
[2066.6135,0.0043],[2066.614,0.0060],[2066.6145,0.0072],[2066.615,0.0077],[2066.6155,0.0072],[2066.616,0.0060],
[2066.6165,0.0043],[2066.617,0.0028],[2066.6175,0.0016],[2066.618,0.0008],[2066.6185,0.0003],[2066.619,0.0001],
[2066.6195,0],
[2066.6275,0],[2066.628,0.0001],[2066.6285,0.0003],[2066.629,0.0008],[2066.6295,0.0016],[2066.630,0.0028],
[2066.6305,0.0044],[2066.631,0.0060],[2066.6315,0.0073],[2066.632,0.0078],[2066.6325,0.0073],[2066.633,0.0060],
[2066.6335,0.0044],[2066.634,0.0028],[2066.6345,0.0016],[2066.635,0.0008],[2066.6355,0.0003],[2066.636,0.0001],
[2066.6365,0],[2066.650,0]
];

// ---------- Axis ticks ----------
const topFreqTicks = [2066.0, 2066.2, 2066.4, 2066.6];
const topFreqMinorTicks = [2066.1, 2066.3, 2066.5];
const topAbsTicks = [0, 0.1, 0.2];
const topAbsMinorTicks = [0.05, 0.15, 0.25];
const bottomFreqTicks = [2066.5, 2066.6];
const bottomFreqMinorTicks = [2066.48, 2066.52, 2066.54, 2066.56, 2066.58, 2066.62, 2066.64];
const bottomAbsTicks = [0, 0.1, 0.2];
const bottomAbsMinorTicks = [0.05, 0.15];

// ---------- Transition labels (rich text: n = normal, s = superscript) ----------
const transitionLabels = [
  { grid: 0, text: '{n|10}{s|0}{n|1-10}{s|0}{n|0 R(17)}', at: [2066.0214, 0.1445] },
  { grid: 0, text: '{n|10}{s|0}{n|0-00}{s|0}{n|0 R(9)}', at: [2066.1478, 0.1412] },
  { grid: 0, text: '{n|01}{s|1}{n|1-01}{s|1}{n|0 R(30)e/f}', at: [2066.2986, 0.1458] },
  { grid: 0, text: '{n|10}{s|0}{n|1-10}{s|0}{n|0 R(18)}', at: [2066.3751, 0.1425] },
  { grid: 0, text: '{n|10}{s|0}{n|0-00}{s|0}{n|0 R(10)}', at: [2066.5374, 0.1438] },
  { grid: 1, text: '{n|10}{s|0}{n|0-00}{s|0}{n|0 R(10)}', at: [2066.5102, 0.1202] },
  { grid: 1, text: '{n|01}{s|1}{n|1-01}{s|1}{n|0 R(30)e/f}', at: [2066.6249, 0.1271] }
];

const INK = '#1a1a1a';
const SANS = "'Liberation Sans', Arial, sans-serif";

function tickLabel(ticks, margin) {
  return { show: true, customValues: ticks, formatter: v => Number(v).toFixed(1),
           fontFamily: SANS, fontSize: 22, color: INK, margin: margin };
}
function mainAxis(gridIndex, min, max, ticks, tickLen, position, labelMargin, extra) {
  return Object.assign({
    type: 'value', gridIndex: gridIndex, min: min, max: max, position: position,
    axisLine: { show: true, onZero: false, lineStyle: { color: INK, width: 2 } },
    axisTick: { show: true, inside: false, customValues: ticks, length: tickLen, lineStyle: { color: INK, width: 2 } },
    axisLabel: tickLabel(ticks, labelMargin),
    splitLine: { show: false }
  }, extra);
}
function minorAxis(gridIndex, min, max, ticks, position) {
  return {
    type: 'value', gridIndex: gridIndex, min: min, max: max, position: position, offset: 0,
    axisLine: { show: false, onZero: false },
    axisTick: { show: true, inside: false, customValues: ticks, length: 5, lineStyle: { color: INK, width: 2 } },
    axisLabel: { show: false },
    splitLine: { show: false }
  };
}
const nameRich = {
  n: { fontFamily: SANS, fontSize: 25, color: INK },
  s: { fontFamily: SANS, fontSize: 15, color: INK, verticalAlign: 'top' }
};
const freqName = '{n|Frequency (cm}{s|-1}{n|)}';
const freqTitle = gap => ({ name: freqName, nameLocation: 'middle', nameGap: gap,
  nameTextStyle: { fontFamily: SANS, fontSize: 25, color: INK, rich: nameRich } });
const absTitle = gap => ({ name: 'Percent Absorbance', nameLocation: 'middle', nameGap: gap,
  nameTextStyle: { fontFamily: SANS, fontSize: 25, color: INK } });

const pointStyle = { color: 'rgba(255,255,255,0)', borderColor: '#000000', borderWidth: 1 };
const fitStyle = { color: '#ff0000', width: 3.8, join: 'round' };

const option = {
  animation: false,
  backgroundColor: '#ffffff',
  grid: [
    { left: 94.5, top: 14, width: 517, height: 416 },
    { left: 83, top: 509, width: 517.5, height: 416 }
  ],
  xAxis: [
    mainAxis(0, 2066.0, 2066.6, topFreqTicks, 9, 'bottom', 17, freqTitle(53)),
    minorAxis(0, 2066.0, 2066.6, topFreqMinorTicks, 'bottom'),
    mainAxis(1, 2066.48, 2066.65, bottomFreqTicks, 9, 'bottom', 17, freqTitle(53)),
    minorAxis(1, 2066.48, 2066.65, bottomFreqMinorTicks, 'bottom')
  ],
  yAxis: [
    mainAxis(0, -0.02, 0.25, topAbsTicks, 8, 'left', 14, absTitle(51)),
    minorAxis(0, -0.02, 0.25, topAbsMinorTicks, 'left'),
    mainAxis(1, -0.02, 0.2, bottomAbsTicks, 8, 'left', 14, absTitle(51)),
    minorAxis(1, -0.02, 0.2, bottomAbsMinorTicks, 'left')
  ],
  series: [
    {
      type: 'scatter', xAxisIndex: 0, yAxisIndex: 0, silent: true, z: 2,
      data: topFreq.map((f, i) => [f, topAbs[i]]),
      symbol: 'circle', symbolSize: 4.5, itemStyle: pointStyle
    },
    {
      type: 'line', xAxisIndex: 0, yAxisIndex: 0, silent: true, z: 4,
      data: topFit, showSymbol: false, symbol: 'none', lineStyle: fitStyle
    },
    {
      type: 'scatter', xAxisIndex: 2, yAxisIndex: 2, silent: true, z: 2,
      data: bottomFreq.map((f, i) => [f, bottomAbs[i]]),
      symbol: 'circle', symbolSize: 4.5, itemStyle: pointStyle
    },
    {
      type: 'line', xAxisIndex: 2, yAxisIndex: 2, silent: true, z: 4,
      data: bottomFit, showSymbol: false, symbol: 'none', lineStyle: fitStyle
    }
  ]
};

const chart = echarts.init(document.getElementById('chart'), null, { renderer: 'canvas' });
chart.setOption(option);

// Vertical transition labels, anchored in data coordinates of their panel
const labelRich = {
  n: { fontFamily: "'Open Sans', sans-serif", fontSize: 21, fill: INK, color: INK, lineHeight: 26 },
  s: { fontFamily: "'Open Sans', sans-serif", fontSize: 14, fill: INK, color: INK, verticalAlign: 'top', lineHeight: 18 }
};
chart.setOption({
  graphic: transitionLabels.map(lab => {
    const p = chart.convertToPixel({ gridIndex: lab.grid }, lab.at);
    return {
      type: 'text', x: p[0], y: p[1], rotation: -Math.PI / 2, silent: true, z: 10,
      style: {
        text: lab.text, rich: labelRich, fill: INK,
        align: 'left', verticalAlign: 'middle', textAlign: 'left', textVerticalAlign: 'middle'
      }
    };
  })
});
</script>
</body>
</html>
